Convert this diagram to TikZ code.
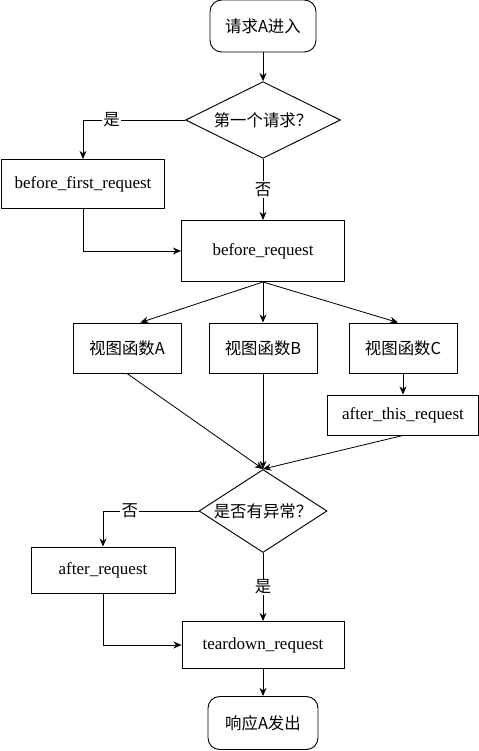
\documentclass[tikz,border=0pt]{standalone}
\usepackage{fontspec}
\setmainfont{Liberation Serif}
\newfontfamily\cjk{Noto Sans CJK SC}
\usetikzlibrary{shapes.geometric,arrows.meta}
\tikzset{
  terminal/.style={draw, rounded corners=0.35cm, line width=0.8pt, inner sep=0pt, font=\cjk\fontsize{14}{16}\selectfont},
  box/.style={draw, line width=0.8pt, inner sep=0pt, font=\fontsize{14.5}{16}\selectfont},
  cnbox/.style={box, font=\cjk\fontsize{14}{16}\selectfont},
  decision/.style={draw, diamond, aspect=1.6, line width=0.8pt, inner sep=0pt, font=\cjk\fontsize{14}{16}\selectfont},
  flow/.style={-{Stealth[length=7pt,width=6pt]}, line width=0.7pt},
  tag/.style={fill=white, inner sep=1pt, font=\cjk\fontsize{14}{16}\selectfont}
}

\begin{document}
\begin{tikzpicture}[x=0.03cm, y=-0.03cm]
\useasboundingbox (0,0) rectangle (479,751);
\node[terminal, minimum width=3.18cm, minimum height=1.56cm] (start) at (263,26) {请求A进入};
\node[decision, minimum width=4.65cm, minimum height=2.19cm] (first) at (263,120) {第一个请求？};
\node[box, minimum width=4.89cm, minimum height=1.47cm] (bfr) at (83,184) {before\_first\_request};
\node[box, minimum width=4.89cm, minimum height=1.83cm] (br) at (263,251) {before\_request};
\node[cnbox, minimum width=3.24cm, minimum height=1.5cm] (viewA) at (127,348) {视图函数A};
\node[cnbox, minimum width=3.24cm, minimum height=1.5cm] (viewB) at (263,348) {视图函数B};
\node[cnbox, minimum width=3.24cm, minimum height=1.5cm] (viewC) at (403,348) {视图函数C};
\node[box, minimum width=4.53cm, minimum height=1.2cm] (atr) at (403,415) {after\_this\_request};
\node[decision, minimum width=3.84cm, minimum height=2.49cm] (error) at (263,511) {是否有异常？};
\node[box, minimum width=4.32cm, minimum height=1.38cm] (ar) at (103,570) {after\_request};
\node[box, minimum width=4.86cm, minimum height=1.41cm] (td) at (263,645) {teardown\_request};
\node[terminal, minimum width=3.3cm, minimum height=1.59cm] (finish) at (263,723) {响应A发出};

\draw[flow] (start) -- (first);
\draw[flow] (first.west) -| node[tag, pos=0.36] {是} (bfr.north);
\draw[flow] (first.south) -- node[tag] {否} (br.north);
\draw[flow] (bfr.south) |- (br.west);
\draw[flow] (br.south) -- ([xshift=0.4cm]viewA.north);
\draw[flow] (br.south) -- (viewB.north);
\draw[flow] (br.south) -- ([xshift=-0.15cm]viewC.north);
\draw[flow] (viewC) -- (atr);
\draw[flow] (viewA.south) -- (error.north);
\draw[flow] (viewB.south) -- (error.north);
\draw[flow] (atr.south) -- (error.north);
\draw[flow] (error.west) -| node[tag, pos=0.36] {否} (ar.north);
\draw[flow] (error.south) -- node[tag] {是} (td.north);
\draw[flow] (ar.south) |- (td.west);
\draw[flow] (td) -- (finish);
\end{tikzpicture}
\end{document}
